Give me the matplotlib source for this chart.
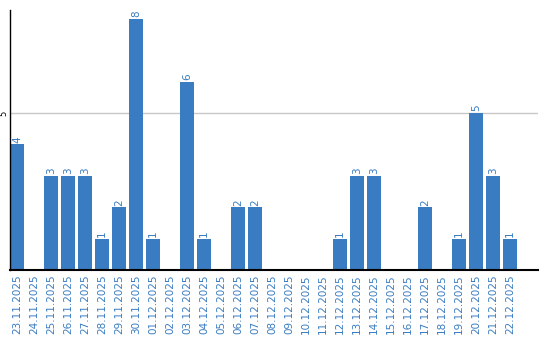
import numpy as np
import matplotlib.pyplot as plt

# daily counts
dates = ['23.11.2025', '24.11.2025', '25.11.2025', '26.11.2025', '27.11.2025',
         '28.11.2025', '29.11.2025', '30.11.2025', '01.12.2025', '02.12.2025',
         '03.12.2025', '04.12.2025', '05.12.2025', '06.12.2025', '07.12.2025',
         '08.12.2025', '09.12.2025', '10.12.2025', '11.12.2025', '12.12.2025',
         '13.12.2025', '14.12.2025', '15.12.2025', '16.12.2025', '17.12.2025',
         '18.12.2025', '19.12.2025', '20.12.2025', '21.12.2025', '22.12.2025']
counts = [4, 0, 3, 3, 3, 1, 2, 8, 1, 0, 6, 1, 0, 2, 2,
          0, 0, 0, 0, 1, 3, 3, 0, 0, 2, 0, 1, 5, 3, 1]

blue = '#3a7cc1'
bw = 14 / 17

fig = plt.figure(figsize=(5.4, 3.4), dpi=100)
ax = fig.add_axes([10 / 540, 70 / 340, 528 / 540, 260 / 340])

x = np.arange(len(dates))
ax.bar(x, counts, width=bw, align='edge', color=blue, zorder=2)

# value labels above non-empty bars
for xi, c in zip(x, counts):
    if c > 0:
        ax.text(xi + bw / 2, c + 0.05, str(c), rotation=90, ha='center', va='bottom',
                color=blue, fontsize=7.5)

ax.set_xlim(0, 528 / 17)
ax.set_ylim(0, 260 / 31.4)

ax.axhline(5, color='#c8c8c8', lw=1, zorder=1)
ax.set_yticks([5])
ax.set_yticklabels(['5'], rotation=90, va='center', fontsize=6)
ax.tick_params(axis='y', length=0, pad=1)

ax.set_xticks(x + bw / 2)
ax.set_xticklabels(dates, rotation=90, color=blue, fontsize=7.5)
ax.tick_params(axis='x', length=0, pad=3)

for s in ['top', 'right']:
    ax.spines[s].set_visible(False)
ax.spines['left'].set_linewidth(1)
ax.spines['bottom'].set_linewidth(1.5)

fig.savefig('out.png', dpi=100)
